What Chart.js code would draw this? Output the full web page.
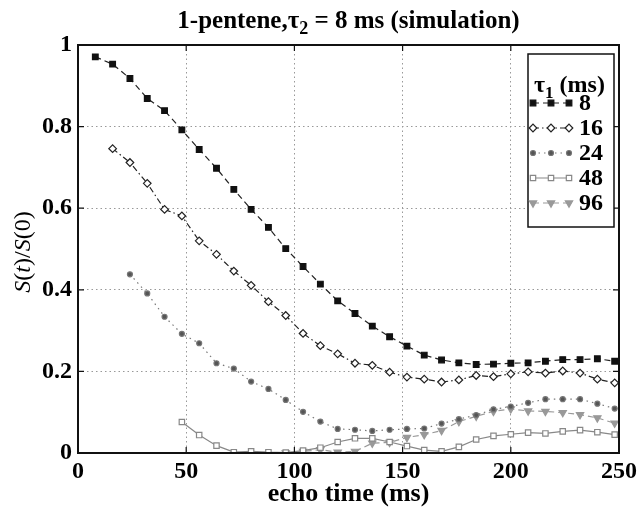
<!DOCTYPE html>
<html>
<head>
<meta charset="utf-8">
<script src="https://cdn.jsdelivr.net/npm/chart.js@4"></script>
<style>
  body { margin: 0; background: #fff; }
  #wrap { width: 644px; height: 507px; }
</style>
</head>
<body>
<div id="wrap"><canvas id="echoChart"></canvas></div>
<script>

// echo times (ms), one point every 8 ms
const echoTimes = [8, 16, 24, 32, 40, 48, 56, 64, 72, 80, 88, 96, 104, 112, 120, 128, 136, 144, 152, 160, 168, 176, 184, 192, 200, 208, 216, 224, 232, 240, 248];

// S(t)/S(0) for each tau1, null where the series has not started yet
const tau8 = [0.971, 0.953, 0.918, 0.869, 0.839, 0.792, 0.744, 0.698, 0.646, 0.597, 0.553, 0.501, 0.457, 0.414, 0.373, 0.342, 0.311, 0.285, 0.262, 0.240, 0.228, 0.221, 0.217, 0.218, 0.220, 0.221, 0.225, 0.229, 0.229, 0.231, 0.225];
const tau16 = [null, 0.746, 0.712, 0.661, 0.597, 0.581, 0.520, 0.487, 0.446, 0.411, 0.371, 0.337, 0.293, 0.263, 0.243, 0.220, 0.215, 0.198, 0.186, 0.181, 0.174, 0.179, 0.190, 0.187, 0.194, 0.199, 0.196, 0.201, 0.196, 0.181, 0.172];
const tau24 = [null, null, 0.438, 0.391, 0.334, 0.292, 0.269, 0.220, 0.207, 0.175, 0.157, 0.130, 0.101, 0.077, 0.059, 0.057, 0.054, 0.057, 0.059, 0.060, 0.072, 0.083, 0.093, 0.107, 0.114, 0.123, 0.132, 0.132, 0.132, 0.121, 0.109];
const tau48 = [null, null, null, null, null, 0.076, 0.044, 0.018, 0.002, 0.004, 0.002, 0.001, 0.006, 0.013, 0.027, 0.036, 0.036, 0.027, 0.017, 0.007, 0.004, 0.015, 0.033, 0.042, 0.046, 0.050, 0.048, 0.053, 0.056, 0.051, 0.045];
const tau96 = [null, null, null, null, null, null, null, null, null, null, null, 0.000, 0.004, 0.008, 0.002, 0.004, 0.024, 0.026, 0.038, 0.045, 0.055, 0.077, 0.090, 0.102, 0.108, 0.103, 0.102, 0.099, 0.094, 0.086, 0.073];

const legendLabels = ['8', '16', '24', '48', '96'];
const xTicks = [0, 50, 100, 150, 200, 250];
const yTicks = [0, 0.2, 0.4, 0.6, 0.8, 1];

const serif = "'Liberation Serif', 'Times New Roman', serif";
Chart.defaults.font.family = serif;
Chart.defaults.color = '#000';

function toPoints(values) {
    return echoTimes.map((t, i) => ({ x: t, y: values[i] }));
}

const styles = [
    { color: '#222', fill: '#111', dash: [6, 4], style: 'rect', r: 4, rot: 0 },
    { color: '#222', fill: '#fff', dash: [6, 3, 1.5, 3], style: 'rectRot', r: 3.8, rot: 0 },
    { color: '#777', fill: '#555', dash: [1.5, 4], style: 'circle', r: 2.5, rot: 0 },
    { color: '#888', fill: '#fff', dash: [], style: 'rect', r: 3.8, rot: 0 },
    { color: '#999', fill: '#999', dash: [6, 4], style: 'triangle', r: 4.2, rot: 180 }
];

const seriesValues = [tau8, tau16, tau24, tau48, tau96];

const datasets = seriesValues.map((vals, i) => ({
    label: legendLabels[i],
    data: toPoints(vals),
    borderColor: styles[i].color,
    borderWidth: 1.2,
    borderDash: styles[i].dash,
    pointStyle: styles[i].style,
    pointRadius: styles[i].r,
    pointRotation: styles[i].rot,
    pointBackgroundColor: styles[i].fill,
    pointBorderColor: i === 0 ? '#111' : styles[i].color,
    pointBorderWidth: 1.2,
    tension: 0,
    fill: false
}));

function drawParts(ctx, parts, x, y) {
    // parts: [text, font, dy]
    let cx = x;
    parts.forEach(p => {
        ctx.font = p[1];
        ctx.fillText(p[0], cx, y + (p[2] || 0));
        cx += ctx.measureText(p[0]).width;
    });
}

function partsWidth(ctx, parts) {
    let w = 0;
    parts.forEach(p => { ctx.font = p[1]; w += ctx.measureText(p[0]).width; });
    return w;
}

const decorPlugin = {
    id: 'decor',
    afterDraw(chart) {
        const ctx = chart.ctx;
        const area = chart.chartArea;
        const xs = chart.scales.x, ys = chart.scales.y;
        ctx.save();

        // frame
        ctx.strokeStyle = '#111';
        ctx.lineWidth = 2;
        ctx.setLineDash([]);
        ctx.strokeRect(area.left, area.top, area.right - area.left, area.bottom - area.top);

        // inward ticks
        ctx.lineWidth = 1.2;
        ctx.beginPath();
        xTicks.slice(1, -1).forEach(v => {
            const px = xs.getPixelForValue(v);
            ctx.moveTo(px, area.bottom); ctx.lineTo(px, area.bottom - 6);
            ctx.moveTo(px, area.top); ctx.lineTo(px, area.top + 6);
        });
        yTicks.slice(1, -1).forEach(v => {
            const py = ys.getPixelForValue(v);
            ctx.moveTo(area.left, py); ctx.lineTo(area.left + 6, py);
            ctx.moveTo(area.right, py); ctx.lineTo(area.right - 6, py);
        });
        ctx.stroke();

        // title
        ctx.fillStyle = '#000';
        ctx.textBaseline = 'alphabetic';
        ctx.textAlign = 'left';
        const tf = "bold 25px " + serif;
        const tsub = "bold 18px " + serif;
        const titleParts = [['1-pentene,\u03c4', tf], ['2', tsub, 6], [' = 8 ms (simulation)', tf]];
        const tw = partsWidth(ctx, titleParts);
        drawParts(ctx, titleParts, (area.left + area.right) / 2 - tw / 2, 28);

        // y axis label
        ctx.save();
        ctx.translate(24, 252);
        ctx.rotate(-Math.PI / 2);
        const yf = "24px " + serif, yi = "italic 24px " + serif;
        const yParts = [['S', yi], ['(', yf], ['t', yi], [')/', yf], ['S', yi], ['(0)', yf]];
        const yw = partsWidth(ctx, yParts);
        ctx.textBaseline = 'middle';
        drawParts(ctx, yParts, -yw / 2, 0);
        ctx.restore();

        // legend
        const lx = 528, ly = 54, lw = 86, lh = 173;
        ctx.fillStyle = '#fff';
        ctx.fillRect(lx, ly, lw, lh);
        ctx.strokeStyle = '#111';
        ctx.lineWidth = 1.5;
        ctx.strokeRect(lx, ly, lw, lh);

        ctx.fillStyle = '#000';
        ctx.textBaseline = 'alphabetic';
        const lf = "bold 24px " + serif;
        drawParts(ctx, [['\u03c4', lf], ['1', "bold 17px " + serif, 6], [' (ms)', lf]], lx + 6, ly + 38);

        chart.data.datasets.forEach((ds, i) => {
            const rowY = 103 + i * 25;
            const x0 = 533, x1 = 569;
            ctx.strokeStyle = ds.borderColor;
            ctx.lineWidth = ds.borderWidth;
            ctx.setLineDash(ds.borderDash);
            ctx.beginPath();
            ctx.moveTo(x0, rowY); ctx.lineTo(x1, rowY);
            ctx.stroke();
            ctx.setLineDash([]);
            ctx.fillStyle = ds.pointBackgroundColor;
            ctx.strokeStyle = ds.pointBorderColor;
            ctx.lineWidth = ds.pointBorderWidth;
            [x0, (x0 + x1) / 2, x1].forEach(px => {
                Chart.helpers.drawPoint(ctx, {
                    pointStyle: ds.pointStyle,
                    radius: ds.pointRadius,
                    rotation: ds.pointRotation,
                    borderWidth: ds.pointBorderWidth
                }, px, rowY);
            });
            ctx.fillStyle = '#000';
            ctx.font = "bold 24px " + serif;
            ctx.textBaseline = 'middle';
            ctx.fillText(ds.label, 579, rowY + 1);
            ctx.textBaseline = 'alphabetic';
        });

        ctx.restore();
    }
};

const ctx = document.getElementById('echoChart').getContext('2d');
const echoChart = new Chart(ctx, {
    type: 'line',
    data: { datasets: datasets },
    options: {
        responsive: true,
        maintainAspectRatio: false,
        animation: false,
        layout: { padding: { top: 45, right: 24, left: 0, bottom: 0 } },
        scales: {
            x: {
                type: 'linear',
                min: 0,
                max: 250,
                afterFit: (s) => { s.height = 54; },
                afterBuildTicks: (s) => { s.ticks = xTicks.map(v => ({ value: v })); },
                ticks: { font: { size: 24, weight: 'bold', lineHeight: 1 }, padding: 7, maxRotation: 0 },
                grid: {
                    drawTicks: false,
                    color: (c) => (c.tick && (c.tick.value === 0 || c.tick.value === 250)) ? 'rgba(0,0,0,0)' : '#999',
                    lineWidth: 1
                },
                border: { display: false, dash: [1.5, 3] },
                title: {
                    display: true,
                    text: 'echo time (ms)',
                    font: { size: 26, weight: 'bold', lineHeight: 1 },
                    padding: { top: 0, bottom: 0 }
                }
            },
            y: {
                min: 0,
                max: 1,
                afterFit: (s) => { s.width = 78; },
                afterBuildTicks: (s) => { s.ticks = yTicks.map(v => ({ value: v })); },
                ticks: {
                    font: { size: 24, weight: 'bold' },
                    padding: 6,
                    callback: (v) => String(Number(v.toFixed(1)))
                },
                grid: {
                    drawTicks: false,
                    color: (c) => (c.tick && (c.tick.value === 0 || c.tick.value === 1)) ? 'rgba(0,0,0,0)' : '#999',
                    lineWidth: 1
                },
                border: { display: false, dash: [1.5, 3] }
            }
        },
        plugins: {
            legend: { display: false },
            tooltip: { enabled: false }
        }
    },
    plugins: [decorPlugin]
});
</script>
</body>
</html>
